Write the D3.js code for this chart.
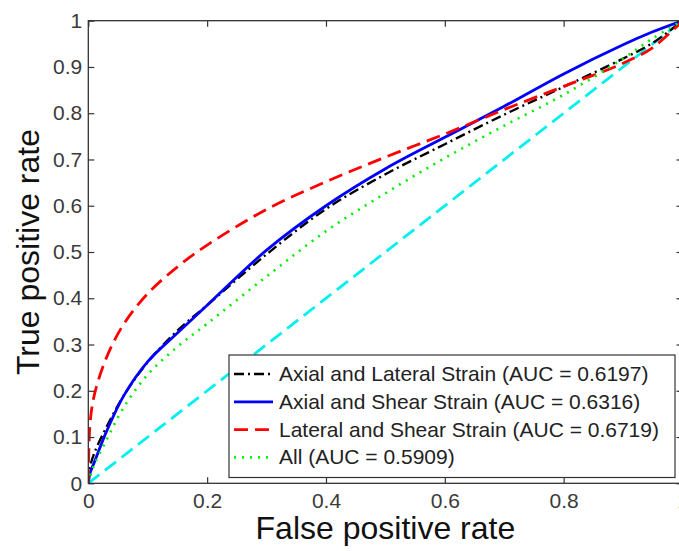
<!DOCTYPE html>
<html>
<head>
<meta charset="utf-8">
<script src="https://cdn.jsdelivr.net/npm/d3@7"></script>
<style>
  body { margin: 0; background: #fff; }
  svg { display: block; font-family: "Liberation Sans", Arial, sans-serif; }
  .tick text { fill: #3a3a3a; font-size: 21px; }
  .tick line { stroke: #333; stroke-width: 1.2; }
  .domain { display: none; }
</style>
</head>
<body>
<svg id="chart" width="679" height="551"></svg>
<script>
// false positive rate grid shared by all curves
var fpr = [0, 0.003, 0.01, 0.03, 0.06, 0.1, 0.15, 0.2, 0.3, 0.4, 0.5, 0.6, 0.7, 0.8, 0.9, 0.95, 1];

// true positive rate
var tprAxialLateral = [0, 0.035, 0.065, 0.12, 0.19, 0.262, 0.33, 0.385, 0.495, 0.593, 0.668, 0.733, 0.797, 0.857, 0.918, 0.952, 1];
var tprAxialShear   = [0, 0.022, 0.045, 0.11, 0.19, 0.263, 0.325, 0.385, 0.504, 0.60, 0.68, 0.748, 0.815, 0.885, 0.948, 0.976, 1];
var tprLateralShear = [0, 0.13, 0.19, 0.27, 0.345, 0.41, 0.468, 0.515, 0.592, 0.652, 0.705, 0.755, 0.808, 0.858, 0.908, 0.942, 1];
var tprAll          = [0, 0.015, 0.04, 0.092, 0.165, 0.235, 0.295, 0.345, 0.447, 0.545, 0.627, 0.703, 0.773, 0.84, 0.918, 0.962, 1];
var chance = [0, 1];

var seriesNames = ["Axial and Lateral Strain (AUC = 0.6197)",
                   "Axial and Shear Strain (AUC = 0.6316)",
                   "Lateral and Shear Strain (AUC = 0.6719)",
                   "All (AUC = 0.5909)"];

var xTicks = [0, 0.2, 0.4, 0.6, 0.8, 1];
var yTicks = [0, 0.1, 0.2, 0.3, 0.4, 0.5, 0.6, 0.7, 0.8, 0.9, 1];

var LEFT = 88.3, RIGHT = 682.5, TOP = 20.7, BOTTOM = 483.3;

var svg = d3.select("#chart");
var x = d3.scaleLinear().domain([0, 1]).range([LEFT, RIGHT]);
var y = d3.scaleLinear().domain([0, 1]).range([BOTTOM, TOP]);

svg.append("rect").attr("width", 679).attr("height", 551).style("fill", "#fff");

svg.append("defs").append("clipPath").attr("id", "plot")
  .append("rect")
    .attr("x", LEFT).attr("y", TOP)
    .attr("width", RIGHT - LEFT).attr("height", BOTTOM - TOP);

var styles = [
  {color: "#000000", width: 2.4, dash: "10,4,2,4"},
  {color: "#0000ff", width: 2.8, dash: null},
  {color: "#ff0000", width: 2.8, dash: "14,7"},
  {color: "#00ee00", width: 2.6, dash: "2,6"}
];
var tprs = [tprAxialLateral, tprAxialShear, tprLateralShear, tprAll];

var line = d3.line()
  .x(function (d) { return x(d[0]); })
  .y(function (d) { return y(d[1]); })
  .curve(d3.curveCatmullRom.alpha(0.5));

var plot = svg.append("g").attr("clip-path", "url(#plot)");

// chance diagonal
plot.append("path")
  .datum(chance.map(function (d) { return [d, d]; }))
  .attr("d", line)
  .style("fill", "none")
  .style("stroke", "#00f0f0")
  .style("stroke-width", 2.8)
  .style("stroke-dasharray", "14,7");

tprs.forEach(function (t, i) {
  plot.append("path")
    .datum(fpr.map(function (f, j) { return [f, t[j]]; }))
    .attr("d", line)
    .style("fill", "none")
    .style("stroke", styles[i].color)
    .style("stroke-width", styles[i].width)
    .style("stroke-dasharray", styles[i].dash);
});

// axes, ticks pointing inward on every side
svg.append("g")
  .attr("transform", "translate(0," + BOTTOM + ")")
  .call(d3.axisBottom(x).tickValues(xTicks).tickSize(-6).tickPadding(10).tickFormat(d3.format("")));
svg.append("g")
  .attr("transform", "translate(" + LEFT + ",0)")
  .call(d3.axisLeft(y).tickValues(yTicks).tickSize(-6).tickPadding(6).tickFormat(d3.format("")));
svg.append("g")
  .attr("transform", "translate(0," + TOP + ")")
  .call(d3.axisTop(x).tickValues(xTicks).tickSize(-6).tickFormat(""));
svg.append("g")
  .attr("transform", "translate(" + RIGHT + ",0)")
  .call(d3.axisRight(y).tickValues(yTicks).tickSize(-6).tickFormat(""));

svg.append("rect")
  .attr("x", LEFT).attr("y", TOP)
  .attr("width", RIGHT - LEFT).attr("height", BOTTOM - TOP)
  .style("fill", "none")
  .style("stroke", "#333")
  .style("stroke-width", 1.3);

// axis titles
svg.append("text")
  .attr("x", (LEFT + RIGHT) / 2)
  .attr("y", 539)
  .attr("text-anchor", "middle")
  .style("font-size", "32px")
  .style("fill", "#111")
  .text("False positive rate");

svg.append("text")
  .attr("transform", "translate(39," + ((TOP + BOTTOM) / 2) + ") rotate(-90)")
  .attr("text-anchor", "middle")
  .style("font-size", "32px")
  .style("fill", "#111")
  .text("True positive rate");

// legend
var legend = svg.append("g");
legend.append("rect")
  .attr("x", 229).attr("y", 355)
  .attr("width", 446).attr("height", 122.5)
  .style("fill", "#fff")
  .style("stroke", "#333")
  .style("stroke-width", 1.2);

seriesNames.forEach(function (name, i) {
  var base = 381 + i * 27.8;
  legend.append("line")
    .attr("x1", 234).attr("x2", 273)
    .attr("y1", base - 7).attr("y2", base - 7)
    .style("stroke", styles[i].color)
    .style("stroke-width", styles[i].width)
    .style("stroke-dasharray", styles[i].dash);
  legend.append("text")
    .attr("x", 279).attr("y", base)
    .style("font-size", "21px")
    .style("fill", "#222")
    .text(name);
});
</script>
</body>
</html>
